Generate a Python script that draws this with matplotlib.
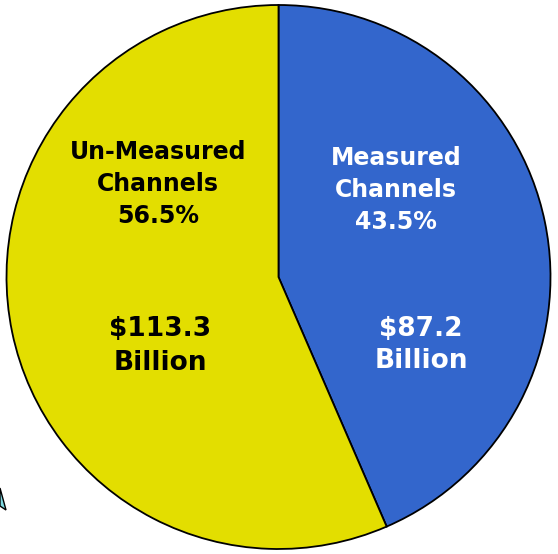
import matplotlib
matplotlib.use("Agg")
import matplotlib.pyplot as plt
from matplotlib.patches import Polygon

# data
labels = ["Measured\nChannels\n43.5%", "Un-Measured\nChannels\n56.5%"]
amounts = ["$87.2\nBillion", "$113.3\nBillion"]
values = [87.2, 113.3]
colors = ["#3366CC", "#E3DE00"]
text_colors = ["white", "black"]

W, H = 558, 554
fig = plt.figure(figsize=(W / 100, H / 100), dpi=100)
ax = fig.add_axes([0, 0, 1, 1])

cx, cy, r = 278.5, H - 277, 272
ax.pie(values, colors=colors, startangle=90, counterclock=False,
       center=(cx, cy), radius=r, frame=True,
       wedgeprops=dict(edgecolor="black", linewidth=1.3))
ax.set_xlim(0, W)
ax.set_ylim(0, H)
ax.axis("off")

# label positions in pixel coords (x, y from top)
label_pos = [(396, 190), (158, 184)]
amount_pos = [(421, 345), (160, 346)]
for i in range(len(values)):
    ax.text(label_pos[i][0], H - label_pos[i][1], labels[i], ha="center", va="center",
            fontsize=17, fontweight="bold", color=text_colors[i], linespacing=1.4,
            family="DejaVu Sans")
    ax.text(amount_pos[i][0], H - amount_pos[i][1], amounts[i], ha="center", va="center",
            fontsize=19, fontweight="bold", color=text_colors[i], linespacing=1.35,
            family="DejaVu Sans")

# bit of an arrow tip poking in at lower left
ax.add_patch(Polygon([(0, H - 488), (6, H - 510), (0, H - 506)], closed=True,
                     facecolor="#7FD8E0", edgecolor="black", linewidth=1.0))

fig.savefig("out.png", dpi=100)
